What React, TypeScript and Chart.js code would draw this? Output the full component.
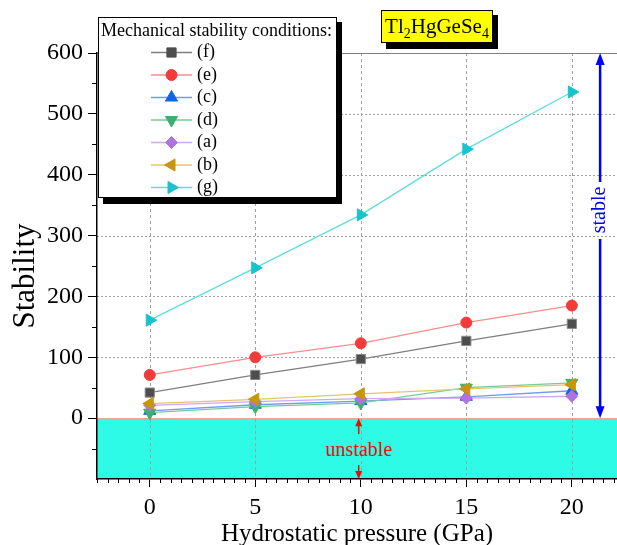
import React, { useEffect, useRef } from "react";
import { Chart, registerables } from "chart.js";

Chart.register(...registerables);

// ---- data ----
const pressures = [0, 5, 10, 15, 20];
const seriesNames = ["(f)", "(e)", "(c)", "(d)", "(a)", "(b)", "(g)"];
const fValues = [42, 71, 97, 127, 155];
const eValues = [71, 100, 123, 157, 185];
const cValues = [12, 22, 28, 35, 45];
const dValues = [9, 19, 25, 50, 58];
const aValues = [21, 27, 32, 33, 36];
const bValues = [24, 31, 40, 48, 55];
const gValues = [161, 247, 334, 442, 536];
const xTickValues = [0, 5, 10, 15, 20];
const yTickValues = [0, 100, 200, 300, 400, 500, 600];
const legendTitle = "Mechanical stability conditions:";
const xTitle = "Hydrostatic pressure (GPa)";
const yTitle = "Stability";

// ---- styles ----
const allValues = [fValues, eValues, cValues, dValues, aValues, bValues, gValues];
const markerColors = ["#4d4d4d", "#f23c3c", "#1565e0", "#3cb06e", "#b074e0", "#c8960a", "#16c4cc"];
const lineColors = ["#7f7f7f", "#f68e8e", "#6aa0ec", "#76cc98", "#cfa8f0", "#e4c470", "#5cdde4"];
const pointStyles = ["rect", "circle", "triangle", "triangle", "rectRot", "triangle", "triangle"];
const pointRotations = [0, 0, 0, 180, 0, 270, 90];
const pointRadii = [6.5, 5.5, 7, 7, 6, 7, 7];
const FONT = "'Liberation Serif', 'Times New Roman', serif";

function drawMarker(ctx: CanvasRenderingContext2D, style: string, x: number, y: number, r: number, rot: number, color: string) {
  ctx.save();
  ctx.fillStyle = color;
  ctx.strokeStyle = color;
  ctx.lineWidth = 1;
  ctx.beginPath();
  if (style === "circle") {
    ctx.arc(x, y, r, 0, Math.PI * 2);
  } else if (style === "rect") {
    const s = r * Math.SQRT1_2;
    ctx.rect(x - s, y - s, 2 * s, 2 * s);
  } else if (style === "rectRot") {
    ctx.moveTo(x, y - r);
    ctx.lineTo(x + r, y);
    ctx.lineTo(x, y + r);
    ctx.lineTo(x - r, y);
    ctx.closePath();
  } else {
    let rad = (rot * Math.PI) / 180;
    ctx.moveTo(x + Math.sin(rad) * r, y - Math.cos(rad) * r);
    rad += (2 * Math.PI) / 3;
    ctx.lineTo(x + Math.sin(rad) * r, y - Math.cos(rad) * r);
    rad += (2 * Math.PI) / 3;
    ctx.lineTo(x + Math.sin(rad) * r, y - Math.cos(rad) * r);
    ctx.closePath();
  }
  ctx.fill();
  ctx.stroke();
  ctx.restore();
}

function arrowHead(ctx: CanvasRenderingContext2D, x: number, tipY: number, dir: number, len: number, half: number) {
  ctx.beginPath();
  ctx.moveTo(x, tipY);
  ctx.lineTo(x - half, tipY + dir * len);
  ctx.lineTo(x + half, tipY + dir * len);
  ctx.closePath();
  ctx.fill();
}

const decorPlugin = {
  id: "decor",
  beforeDraw(chart: any) {
    const { ctx, chartArea: ca } = chart;
    const xs = chart.scales.x;
    const ys = chart.scales.y;
    const y0 = ys.getPixelForValue(0);
    ctx.save();
    ctx.fillStyle = "#2efbe6";
    ctx.fillRect(ca.left, y0, ca.right - ca.left, ca.bottom - y0);
    ctx.strokeStyle = "#a0a0a0";
    ctx.lineWidth = 1;
    ctx.setLineDash([3, 3]);
    for (const v of xTickValues) {
      const px = Math.round(xs.getPixelForValue(v)) + 0.5;
      ctx.beginPath();
      ctx.moveTo(px, ca.top);
      ctx.lineTo(px, ca.bottom);
      ctx.stroke();
    }
    ctx.setLineDash([2, 2]);
    for (const v of yTickValues) {
      if (v === 0 || v === 600) continue;
      const py = Math.round(ys.getPixelForValue(v)) + 0.5;
      ctx.beginPath();
      ctx.moveTo(ca.left, py);
      ctx.lineTo(ca.right, py);
      ctx.stroke();
    }
    ctx.setLineDash([]);
    ctx.strokeStyle = "#808080";
    ctx.beginPath();
    ctx.moveTo(ca.left, Math.round(ca.top) + 0.5);
    ctx.lineTo(ca.right, Math.round(ca.top) + 0.5);
    ctx.stroke();
    ctx.strokeStyle = "#f4a0a0";
    ctx.beginPath();
    ctx.moveTo(ca.left, Math.round(y0) + 0.5);
    ctx.lineTo(ca.right, Math.round(y0) + 0.5);
    ctx.stroke();
    ctx.restore();
  },
  afterDraw(chart: any) {
    const { ctx, chartArea: ca } = chart;
    const xs = chart.scales.x;
    const ys = chart.scales.y;
    ctx.save();
    // minor ticks
    ctx.strokeStyle = "#000";
    ctx.lineWidth = 1;
    for (let v = -2.5; v <= xs.max + 1e-6; v += 0.5) {
      if (Math.abs(v % 5) < 1e-6) continue;
      const px = Math.round(xs.getPixelForValue(v)) + 0.5;
      ctx.beginPath();
      ctx.moveTo(px, ca.bottom);
      ctx.lineTo(px, ca.bottom + 4);
      ctx.stroke();
    }
    for (let v = -50; v <= 600; v += 100) {
      const py = Math.round(ys.getPixelForValue(v)) + 0.5;
      ctx.beginPath();
      ctx.moveTo(ca.left, py);
      ctx.lineTo(ca.left - 5, py);
      ctx.stroke();
    }

    // blue stable arrow
    const bx = xs.getPixelForValue(21.34);
    const yTop = ys.getPixelForValue(600);
    const yZero = ys.getPixelForValue(0);
    const yBot = ys.getPixelForValue(-100);
    ctx.strokeStyle = "#0000ff";
    ctx.fillStyle = "#0000ff";
    ctx.lineWidth = 2.5;
    ctx.beginPath();
    ctx.moveTo(bx, yTop + 10);
    ctx.lineTo(bx, 182);
    ctx.moveTo(bx, 239);
    ctx.lineTo(bx, yZero - 10);
    ctx.stroke();
    arrowHead(ctx, bx, yTop, 1, 12, 4.5);
    arrowHead(ctx, bx, yZero, -1, 12, 4.5);
    ctx.save();
    ctx.translate(bx, 210);
    ctx.rotate(-Math.PI / 2);
    ctx.font = `20px ${FONT}`;
    ctx.textAlign = "center";
    ctx.textBaseline = "middle";
    ctx.fillText("stable", 0, 0);
    ctx.restore();

    // red unstable arrows
    const rx = xs.getPixelForValue(9.9);
    ctx.strokeStyle = "#ff0000";
    ctx.fillStyle = "#ff0000";
    ctx.lineWidth = 1.5;
    ctx.beginPath();
    ctx.moveTo(rx, 434);
    ctx.lineTo(rx, yZero + 6);
    ctx.moveTo(rx, 465);
    ctx.lineTo(rx, yBot - 6);
    ctx.stroke();
    arrowHead(ctx, rx, yZero, 1, 8, 3.5);
    arrowHead(ctx, rx, yBot, -1, 8, 3.5);
    ctx.font = `20px ${FONT}`;
    ctx.textAlign = "center";
    ctx.textBaseline = "alphabetic";
    ctx.fillText("unstable", rx, 456);

    // axis titles
    ctx.fillStyle = "#000";
    ctx.font = `25px ${FONT}`;
    ctx.fillText(xTitle, 357, 541);
    ctx.save();
    ctx.translate(34, 276);
    ctx.rotate(-Math.PI / 2);
    ctx.font = `31px ${FONT}`;
    ctx.textAlign = "center";
    ctx.fillText(yTitle, 0, 0);
    ctx.restore();

    // compound title box
    ctx.fillStyle = "#000";
    ctx.fillRect(386, 15, 112, 34);
    ctx.fillStyle = "#ffff00";
    ctx.fillRect(381, 10, 112, 33);
    ctx.strokeStyle = "#000";
    ctx.lineWidth = 1;
    ctx.strokeRect(381.5, 10.5, 111, 32);
    const parts: [string, boolean][] = [["Tl", false], ["2", true], ["HgGeSe", false], ["4", true]];
    const mainF = `21px ${FONT}`;
    const subF = `14px ${FONT}`;
    let total = 0;
    for (const [t, sub] of parts) {
      ctx.font = sub ? subF : mainF;
      total += ctx.measureText(t).width;
    }
    let tx = 437 - total / 2;
    ctx.fillStyle = "#000";
    ctx.textAlign = "left";
    for (const [t, sub] of parts) {
      ctx.font = sub ? subF : mainF;
      ctx.fillText(t, tx, sub ? 38 : 33);
      tx += ctx.measureText(t).width;
    }

    // legend
    ctx.fillStyle = "#000";
    ctx.fillRect(103, 22, 239, 182);
    ctx.fillStyle = "#fff";
    ctx.fillRect(98, 17, 239, 181);
    ctx.strokeStyle = "#000";
    ctx.strokeRect(98.5, 17.5, 238, 180);
    ctx.fillStyle = "#000";
    ctx.font = `18px ${FONT}`;
    ctx.textAlign = "left";
    ctx.textBaseline = "alphabetic";
    ctx.fillText(legendTitle, 101, 36);
    seriesNames.forEach((name, i) => {
      const cy = 52.5 + i * 22.5;
      ctx.strokeStyle = lineColors[i];
      ctx.lineWidth = 1.5;
      ctx.beginPath();
      ctx.moveTo(151, cy);
      ctx.lineTo(192, cy);
      ctx.stroke();
      drawMarker(ctx, pointStyles[i], 171.5, cy, pointRadii[i], pointRotations[i], markerColors[i]);
      ctx.fillStyle = "#000";
      ctx.font = `18px ${FONT}`;
      ctx.textBaseline = "middle";
      ctx.fillText(name, 197, cy);
    });
    ctx.restore();
  },
};

export default function App() {
  const ref = useRef<HTMLCanvasElement | null>(null);
  useEffect(() => {
    if (!ref.current) return;
    const datasets = seriesNames.map((name, i) => ({
      label: name,
      data: pressures.map((p, j) => ({ x: p, y: allValues[i][j] })),
      borderColor: lineColors[i],
      backgroundColor: markerColors[i],
      borderWidth: 1.3,
      pointStyle: pointStyles[i],
      pointRotation: pointRotations[i],
      pointRadius: pointRadii[i],
      pointBackgroundColor: markerColors[i],
      pointBorderColor: i === 0 ? "#8a8a8a" : markerColors[i],
      pointBorderWidth: 1,
      order: 6 - i,
      tension: 0,
    }));
    const tickFont = { family: FONT, size: 24 };
    const chart = new Chart(ref.current, {
      type: "line",
      data: { datasets },
      plugins: [decorPlugin],
      options: {
        animation: false,
        responsive: false,
        maintainAspectRatio: false,
        layout: { autoPadding: false, padding: { top: 53, left: 0, right: 0, bottom: 0 } },
        plugins: { legend: { display: false }, tooltip: { enabled: false }, title: { display: false } },
        scales: {
          x: {
            type: "linear",
            min: -2.5,
            max: 22.14,
            afterBuildTicks: (s: any) => {
              s.ticks = xTickValues.map((v) => ({ value: v }));
            },
            afterFit: (s: any) => {
              s.height = 66;
              s.paddingLeft = 0;
              s.paddingRight = 0;
            },
            grid: { drawOnChartArea: false, drawTicks: true, tickLength: 8, color: "#000", lineWidth: 1 },
            border: { display: true, color: "#000", width: 1.5 },
            ticks: { font: tickFont, color: "#000", padding: 6, maxRotation: 0, autoSkip: false },
          },
          y: {
            type: "linear",
            min: -100,
            max: 600,
            afterBuildTicks: (s: any) => {
              s.ticks = yTickValues.map((v) => ({ value: v }));
            },
            afterFit: (s: any) => {
              s.width = 97;
              s.paddingTop = 0;
              s.paddingBottom = 0;
            },
            grid: { drawOnChartArea: false, drawTicks: true, tickLength: 9, color: "#000", lineWidth: 1 },
            border: { display: true, color: "#000", width: 1.5 },
            ticks: { font: tickFont, color: "#000", padding: 5, autoSkip: false },
          },
        },
      } as any,
    });
    return () => chart.destroy();
  }, []);
  return (
    <div style={{ position: "fixed", left: 0, top: 0, width: 617, height: 545, background: "#fff" }}>
      <canvas ref={ref} width={617} height={545} style={{ display: "block" }} />
    </div>
  );
}
